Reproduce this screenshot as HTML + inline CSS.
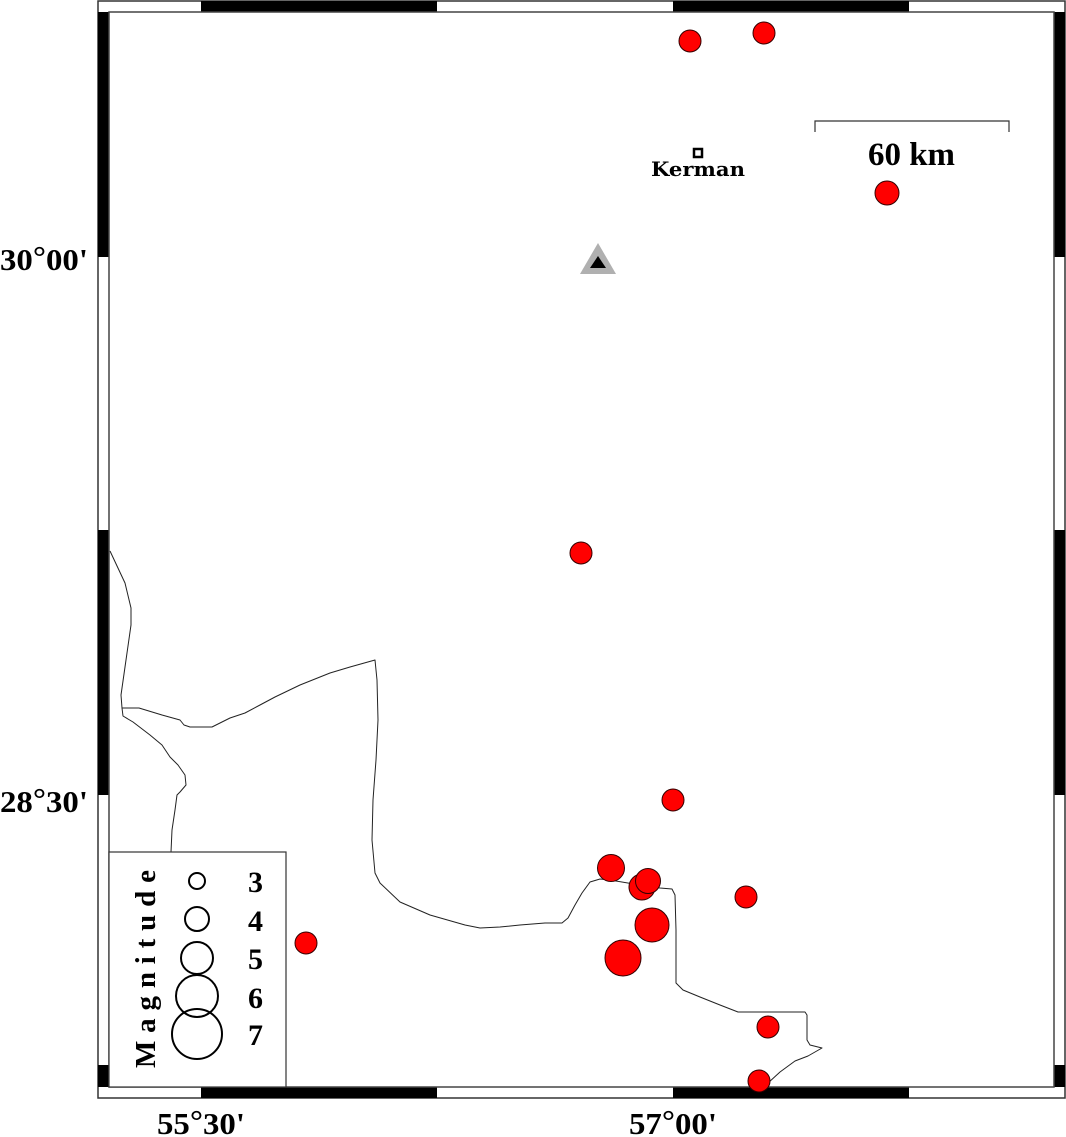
<!DOCTYPE html>
<html><head><meta charset="utf-8"><style>
html,body{margin:0;padding:0;background:#fff;}
svg{display:block;}
text{font-family:"Liberation Serif",serif;font-weight:bold;fill:#000;}
</style></head><body>
<svg width="1066" height="1137" viewBox="0 0 1066 1137" xmlns="http://www.w3.org/2000/svg">
<rect x="98" y="1" width="967" height="1097" fill="#fff" stroke="#333" stroke-width="1.5"/>
<rect x="201" y="1" width="236" height="11" fill="#000"/>
<rect x="673" y="1" width="236" height="11" fill="#000"/>
<rect x="201" y="1087" width="236" height="11" fill="#000"/>
<rect x="673" y="1087" width="236" height="11" fill="#000"/>
<rect x="98" y="12" width="11" height="245" fill="#000"/>
<rect x="98" y="530" width="11" height="265" fill="#000"/>
<rect x="98" y="1065" width="11" height="22" fill="#000"/>
<rect x="1054" y="12" width="11" height="245" fill="#000"/>
<rect x="1054" y="530" width="11" height="265" fill="#000"/>
<rect x="1054" y="1065" width="11" height="22" fill="#000"/>
<rect x="109" y="12" width="945" height="1075" fill="none" stroke="#444" stroke-width="1.5"/>

<g fill="none" stroke="#222" stroke-width="1" stroke-linejoin="round">
<polyline points="110,551 125,583 131,608 131,625 126,660 121,695 122,708 139,708 162,715 180,720 184,725 190,727 212,727 222,722 230,718 245,713 260,705 275,697 300,685 330,673 350,667 375,660 377,680 378,720 376,760 373,800 372,840 375,873 380,883 400,902 430,915 465,925 480,928 500,927 520,925 545,923 562,923 568,918 575,905 582,893 590,882 600,879 610,880 640,885 660,888 672,889 675,895 676,930 676,983 683,990 700,997 720,1005 738,1012 765,1012 805,1012 807,1015 807,1040 810,1045 822,1048 808,1056 795,1061 780,1072 768,1083 765,1087"/>
<polyline points="122,708 123,716 133,722 150,735 162,745 170,757 178,765 185,775 186,785 180,792 177,795 175,810 172,830 171,852"/>
</g>

<g fill="#f00" stroke="#300" stroke-width="1">
<circle cx="690" cy="41" r="11"/>
<circle cx="764" cy="33" r="11"/>
<circle cx="887" cy="193" r="12"/>
<circle cx="581" cy="553" r="11"/>
<circle cx="673" cy="800" r="11"/>
<circle cx="611" cy="868" r="13.5"/>
<circle cx="642" cy="887" r="13"/>
<circle cx="648" cy="881" r="12.5"/>
<circle cx="652" cy="925" r="17"/>
<circle cx="623" cy="958" r="18"/>
<circle cx="746" cy="897" r="11"/>
<circle cx="768" cy="1027" r="11"/>
<circle cx="759" cy="1081" r="11"/>
<circle cx="306" cy="943" r="11"/>
</g>

<polygon points="598,243 580,274 616,274" fill="#b0b0b0"/>
<polygon points="598,256 590,268 606,268" fill="#000"/>

<rect x="694" y="149" width="8" height="8" fill="#fff" stroke="#000" stroke-width="2.5"/>
<text x="698" y="176" font-size="20" text-anchor="middle" style="font-family:'DejaVu Serif',serif;font-weight:bold" textLength="94" lengthAdjust="spacingAndGlyphs">Kerman</text>

<polyline points="815,132 815,121 1009,121 1009,132" fill="none" stroke="#333" stroke-width="1.2"/>
<text x="868" y="165" font-size="33" textLength="87" lengthAdjust="spacingAndGlyphs">60 km</text>

<rect x="109" y="852" width="177" height="235" fill="#fff" stroke="#333" stroke-width="1.2"/>
<g fill="none" stroke="#000" stroke-width="2">
<circle cx="197" cy="881" r="8"/>
<circle cx="197" cy="919" r="12"/>
<circle cx="197" cy="958" r="16"/>
<circle cx="197" cy="996" r="21"/>
<circle cx="197" cy="1034" r="25"/>
</g>
<g font-size="30">
<text x="248" y="892">3</text>
<text x="248" y="931">4</text>
<text x="248" y="969">5</text>
<text x="248" y="1008">6</text>
<text x="248" y="1045">7</text>
</g>
<text transform="translate(155,1068) rotate(-90)" font-size="29" textLength="198" lengthAdjust="spacing">Magnitude</text>

<g font-size="31">
<text x="0" y="270" textLength="88" lengthAdjust="spacingAndGlyphs">30<tspan dy="-3">°</tspan><tspan dy="3">00'</tspan></text>
<text x="0" y="812" textLength="88" lengthAdjust="spacingAndGlyphs">28<tspan dy="-3">°</tspan><tspan dy="3">30'</tspan></text>
<text x="157" y="1134" textLength="88" lengthAdjust="spacingAndGlyphs">55<tspan dy="-3">°</tspan><tspan dy="3">30'</tspan></text>
<text x="629" y="1134" textLength="88" lengthAdjust="spacingAndGlyphs">57<tspan dy="-3">°</tspan><tspan dy="3">00'</tspan></text>
</g>
</svg>
</body></html>
